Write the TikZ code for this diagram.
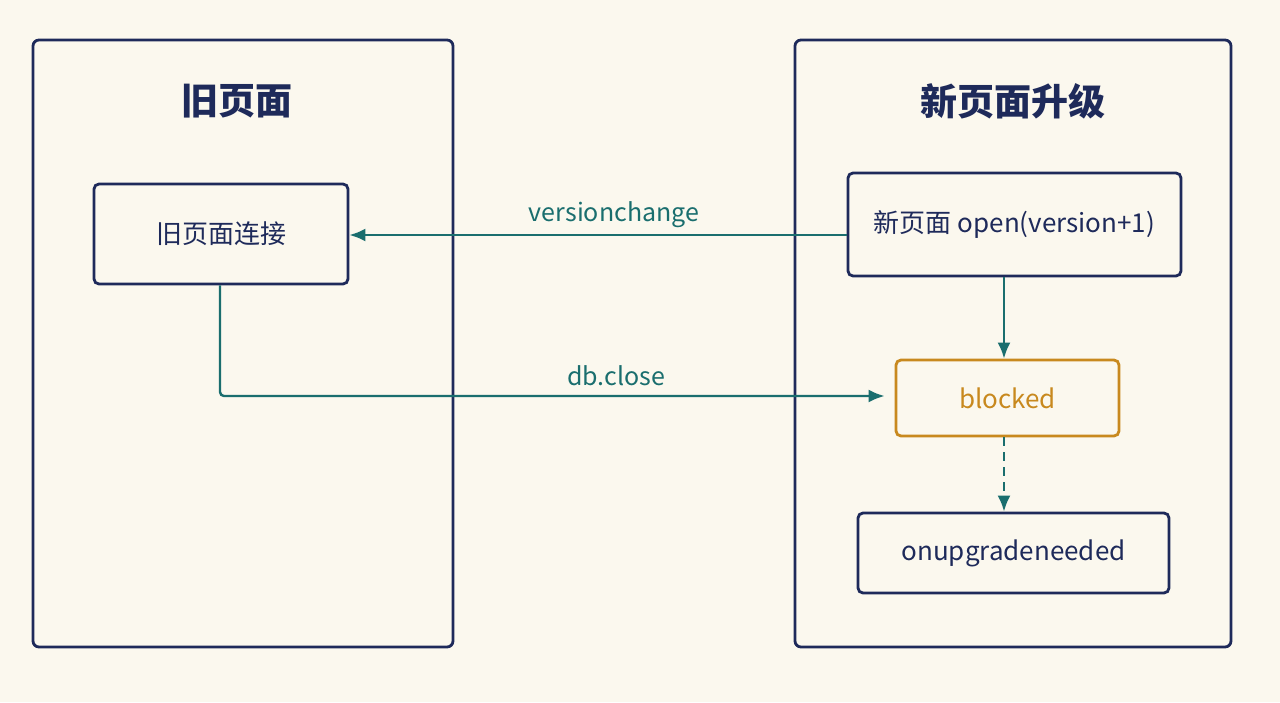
\documentclass[tikz,border=0pt]{standalone}
\usepackage{fontspec}
\setmainfont{Noto Sans CJK SC}
\usetikzlibrary{arrows.meta}
\definecolor{bg}{HTML}{FBF8EE}
\definecolor{navy}{HTML}{1E2A5A}
\definecolor{teal}{HTML}{1A6E6E}
\definecolor{orng}{HTML}{C8891E}
\begin{document}
\begin{tikzpicture}[x=1pt,y=-1pt,
 panel/.style={draw=navy,line width=2.8pt,rounded corners=6pt},
 box/.style={draw=navy,line width=2.8pt,rounded corners=5pt,text=navy,font=\fontsize{26}{28}\selectfont},
 title/.style={text=navy,font=\fontsize{37}{40}\selectfont\bfseries},
 arr/.style={draw=teal,line width=2.4pt,-{Latex[length=16pt,width=13pt]}},
 lbl/.style={text=teal,font=\fontsize{25}{28}\selectfont}]
\fill[bg] (0,0) rectangle (1280,702);
\useasboundingbox (0,0) rectangle (1280,702);
\draw[panel] (33,40) rectangle (453,647);
\draw[panel] (795,40) rectangle (1231,647);
\node[title] (t1) at (237,101) {旧页面};
\node[title] (t2) at (1013,101) {新页面升级};
\node[box,minimum width=254pt,minimum height=100pt] (old) at (221,234) {旧页面连接};
\node[box,minimum width=333pt,minimum height=103pt] (new) at (1014.5,224.5) {新页面 open(version+1)};
\node[box,draw=orng,text=orng,minimum width=223pt,minimum height=76pt] (blk) at (1007.5,398) {blocked};
\node[box,minimum width=311pt,minimum height=80pt] (upg) at (1013.5,553) {onupgradeneeded};
\draw[arr] (new.west |- 0,235) -- (old.east |- 0,235);
\node[lbl] (l1) at (614,215) {versionchange};
\coordinate (c1) at (220,396);
\draw[arr,rounded corners=4pt] (old.south -| 220,0) -- (c1) -- ([xshift=-10pt]blk.west |- 0,396);
\node[lbl] (l2) at (616,376) {db.close};
\draw[arr] (new.south -| 1004,0) -- (blk.north -| 1004,0);
\draw[arr,dashed,dash pattern=on 9pt off 6pt] (blk.south -| 1004,0) -- (upg.north -| 1004,0);
\end{tikzpicture}
\end{document}
